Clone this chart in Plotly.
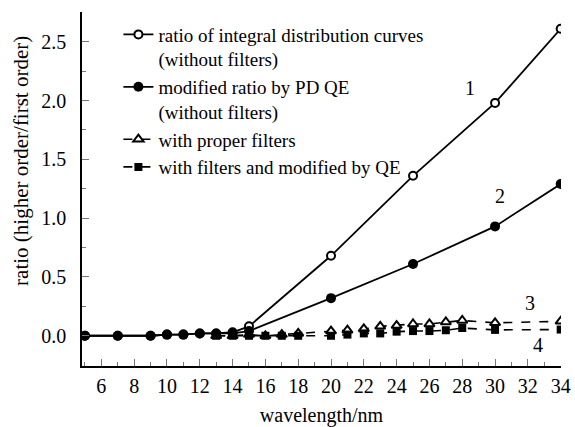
import plotly.graph_objects as go

# wavelengths (nm)
wl_a = [5, 7, 9, 10, 11, 12, 13, 14, 15, 20, 25, 30, 34]
wl_b = [13, 14, 15, 16, 17, 18, 20, 21, 22, 23, 24, 25, 26, 27, 28, 30, 34]

# series values
ratio_integral = [0.0, 0.0, 0.0, 0.01, 0.01, 0.02, 0.02, 0.03, 0.08, 0.68, 1.36, 1.98, 2.61]
ratio_pdqe = [0.0, 0.0, 0.0, 0.01, 0.01, 0.02, 0.02, 0.02, 0.04, 0.32, 0.61, 0.93, 1.29]
ratio_filters = [0.0, 0.0, 0.01, 0.0, 0.01, 0.02, 0.04, 0.047, 0.058, 0.08, 0.087, 0.10, 0.10, 0.117, 0.13, 0.11, 0.123]
ratio_filters_qe = [0.0, 0.0, 0.0, 0.0, 0.0, 0.0, 0.0, 0.01, 0.02, 0.02, 0.035, 0.04, 0.04, 0.047, 0.066, 0.05, 0.053]

names = [
    "ratio of integral distribution curves<br>(without filters)",
    "modified ratio by PD QE<br>(without filters)",
    "with proper filters",
    "with filters and modified by QE",
]

curve_labels = ["1", "2", "3", "4"]
label_x = [28.5, 30.3, 32.1, 32.6]
label_y = [2.11, 1.19, 0.28, -0.08]

FONT = "Liberation Serif"

fig = go.Figure()
fig.add_trace(go.Scatter(
    x=wl_a, y=ratio_integral, name=names[0], mode="lines+markers",
    line=dict(color="black", width=1.8),
    marker=dict(symbol="circle", size=8, color="white", line=dict(color="black", width=2)),
))
fig.add_trace(go.Scatter(
    x=wl_a, y=ratio_pdqe, name=names[1], mode="lines+markers",
    line=dict(color="black", width=1.8),
    marker=dict(symbol="circle", size=10, color="black"),
))
fig.add_trace(go.Scatter(
    x=wl_b, y=ratio_filters, name=names[2], mode="lines+markers",
    line=dict(color="black", width=1.6, dash="dash"),
    marker=dict(symbol="triangle-up", size=9, color="white", line=dict(color="black", width=2)),
))
fig.add_trace(go.Scatter(
    x=wl_b, y=ratio_filters_qe, name=names[3], mode="lines+markers",
    line=dict(color="black", width=1.6, dash="dash"),
    marker=dict(symbol="square", size=8, color="black"),
))

for t, x, y in zip(curve_labels, label_x, label_y):
    fig.add_annotation(x=x, y=y, text=t, showarrow=False,
                       font=dict(family=FONT, size=20, color="black"))

fig.add_annotation(xref="paper", yref="paper", x=-0.129, y=0.58, text="ratio (higher order/first order)",
                   textangle=-90, showarrow=False, xanchor="center", yanchor="middle",
                   font=dict(family=FONT, size=21, color="black"))

fig.update_layout(
    width=575, height=427,
    margin=dict(l=82, r=14, t=12, b=61),
    paper_bgcolor="white", plot_bgcolor="white",
    font=dict(family=FONT, size=20, color="black"),
    showlegend=True,
    legend=dict(x=0.076, y=0.99, xanchor="left", yanchor="top", bgcolor="rgba(0,0,0,0)",
                font=dict(family=FONT, size=19, color="black"), valign="top",
                tracegroupgap=0, itemwidth=30),
    xaxis=dict(
        range=[4.82, 34.02], showgrid=False, zeroline=False, automargin=False,
        showline=True, linecolor="black", linewidth=1.5,
        ticks="inside", ticklen=7, tickwidth=1.2, tickcolor="#777",
        dtick=2, tick0=0, ticklabelstandoff=1,
        minor=dict(dtick=1, tick0=0, ticks="inside", ticklen=4, tickcolor="#777", tickwidth=1.2),
        title=dict(text="wavelength/nm", font=dict(family=FONT, size=20), standoff=14),
    ),
    yaxis=dict(
        range=[-0.257, 2.753], showgrid=False, zeroline=False, automargin=False,
        showline=True, linecolor="black", linewidth=1.5,
        ticks="inside", ticklen=7, tickwidth=1.2, tickcolor="#777",
        dtick=0.5, tick0=0, tickformat=".1f", ticklabelstandoff=10,
        minor=dict(dtick=0.25, tick0=0, ticks="inside", ticklen=4, tickcolor="#777", tickwidth=1.2),
    ),
)

fig.write_html("out.html")
